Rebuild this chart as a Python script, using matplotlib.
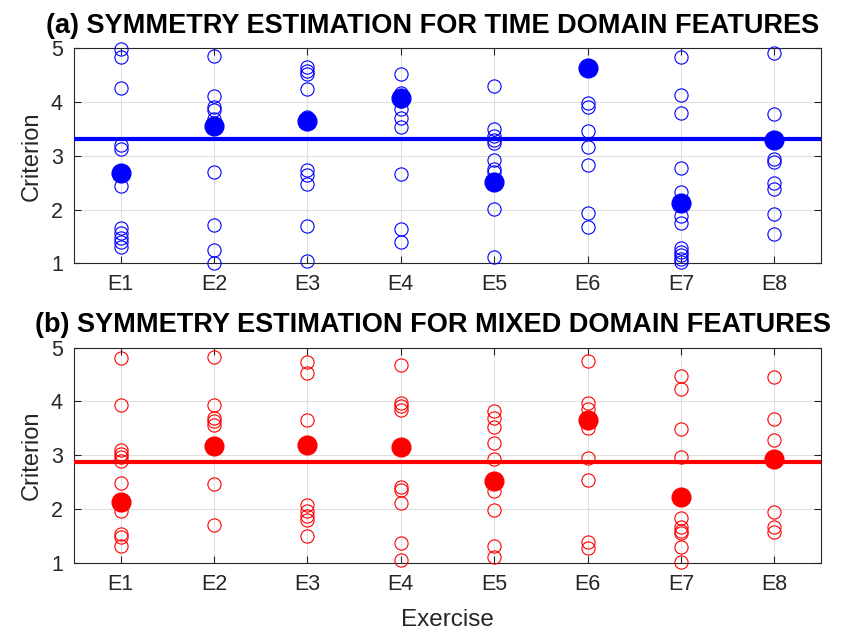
import matplotlib
matplotlib.use('Agg')
import matplotlib.pyplot as plt

plt.rcParams['font.family'] = ['Liberation Sans', 'DejaVu Sans']

exercises = ['E1', 'E2', 'E3', 'E4', 'E5', 'E6', 'E7', 'E8']

# (a) time domain features: individual criterion values per exercise
time_points = [
    [4.98, 4.83, 4.27, 3.21, 3.13, 2.43, 1.65, 1.56, 1.48, 1.39, 1.31],
    [4.86, 4.11, 3.91, 3.85, 3.68, 2.69, 1.71, 1.24, 1.00],
    [4.65, 4.58, 4.52, 4.24, 3.73, 2.74, 2.64, 2.48, 1.69, 1.04],
    [4.53, 4.16, 4.02, 3.88, 3.70, 3.53, 2.66, 1.63, 1.40],
    [4.29, 3.50, 3.36, 3.29, 3.23, 2.92, 2.75, 2.69, 2.02, 1.11],
    [3.98, 3.90, 3.46, 3.16, 2.83, 1.93, 1.68],
    [4.83, 4.13, 3.80, 2.77, 2.33, 1.88, 1.75, 1.28, 1.22, 1.16, 1.09, 1.03],
    [4.91, 3.77, 2.95, 2.89, 2.49, 2.38, 1.92, 1.55],
]
time_means = [2.68, 3.56, 3.65, 4.08, 2.51, 4.64, 2.13, 3.30]
time_overall = 3.31

# (b) mixed domain features
mixed_points = [
    [4.81, 3.94, 3.10, 3.03, 2.97, 2.89, 2.48, 1.96, 1.53, 1.47, 1.31],
    [4.83, 3.93, 3.69, 3.64, 3.57, 2.46, 1.70],
    [4.73, 4.52, 3.66, 2.07, 1.96, 1.87, 1.79, 1.50],
    [4.67, 3.98, 3.91, 3.84, 2.41, 2.35, 2.12, 1.36, 1.05],
    [3.83, 3.70, 3.52, 3.22, 2.93, 2.33, 1.98, 1.32, 1.10],
    [4.75, 3.98, 3.86, 3.50, 2.94, 2.53, 1.38, 1.27],
    [4.47, 4.23, 3.48, 2.96, 1.84, 1.66, 1.59, 1.55, 1.29, 1.02],
    [4.45, 3.67, 3.29, 1.95, 1.66, 1.58],
]
mixed_means = [2.13, 3.17, 3.19, 3.16, 2.52, 3.65, 2.22, 2.93]
mixed_overall = 2.87

panels = [
    ('(a) SYMMETRY ESTIMATION FOR TIME DOMAIN FEATURES', time_points, time_means, time_overall, '#0000ff'),
    ('(b) SYMMETRY ESTIMATION FOR MIXED DOMAIN FEATURES', mixed_points, mixed_means, mixed_overall, '#ff0000'),
]

fig = plt.figure(figsize=(8.52, 6.3), dpi=100)
ax_rects = [[0.0869, 0.582, 0.8767, 0.3413], [0.0869, 0.1068, 0.8767, 0.3413]]
dark = '#262626'

for rect, (title, points, means, overall, color) in zip(ax_rects, panels):
    ax = fig.add_axes(rect)
    for i, vals in enumerate(points):
        ax.plot([i + 1] * len(vals), vals, linestyle='none', marker='o',
                markersize=9.5, markerfacecolor='none', markeredgecolor=color,
                markeredgewidth=0.8, clip_on=False, zorder=3)
    ax.axhline(overall, color=color, linewidth=3, zorder=4)
    ax.plot(range(1, len(means) + 1), means, linestyle='none', marker='o',
            markersize=13.5, color=color, zorder=5)

    ax.set_xlim(0.5, 8.5)
    ax.set_ylim(1, 5)
    ax.set_xticks(range(1, 9))
    ax.set_xticklabels(exercises)
    ax.set_yticks([1, 2, 3, 4, 5])
    ax.tick_params(direction='in', length=5, width=0.8, colors=dark,
                   labelsize=15.5, top=True, right=True, pad=8)
    ax.grid(True, color='#dfdfdf', linewidth=0.8)
    ax.set_axisbelow(True)
    for sp in ax.spines.values():
        sp.set_color(dark)
        sp.set_linewidth(0.8)
    ax.set_ylabel('Criterion', fontsize=17, color=dark, labelpad=6)
    ax.set_title(title, fontsize=19.5, fontweight='bold', pad=11, x=0.48)

ax.set_xlabel('Exercise', fontsize=17.5, color=dark, labelpad=10)

fig.savefig('out.png', dpi=100)
